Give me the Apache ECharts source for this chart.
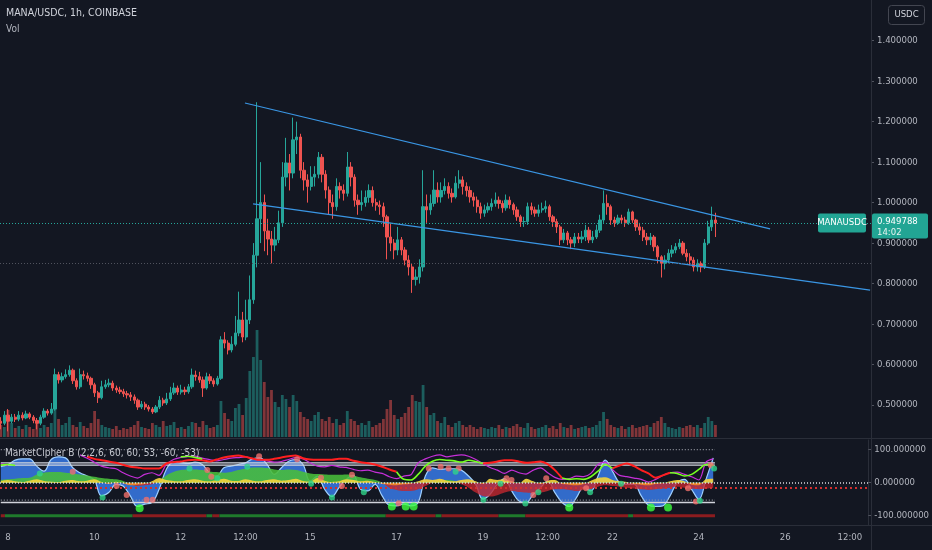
<!DOCTYPE html>
<html><head><meta charset="utf-8">
<script src="https://cdn.jsdelivr.net/npm/echarts@6/dist/echarts.min.js"></script>
<style>html,body{margin:0;padding:0;background:#131722;}#c{width:932px;height:550px;}</style>
</head><body><div id="c"></div>
<script>
// ---- time base: hours from Sep 8 00:00, 2h candles ----
const startHour = -4;
const candleStepHours = 2;
const firstOpen = 0.46;
const closes = [
0.455,0.475,0.46,0.47,0.465,0.475,0.468,0.478,0.47,0.462,
0.455,0.47,0.485,0.48,0.49,0.575,0.562,0.57,0.575,0.586,
0.56,0.545,0.575,0.572,0.566,0.55,0.53,0.518,0.545,0.55,
0.554,0.542,0.537,0.533,0.528,0.525,0.52,0.512,0.495,0.502,
0.495,0.49,0.483,0.495,0.512,0.505,0.515,0.53,0.542,0.532,
0.537,0.533,0.545,0.574,0.57,0.562,0.542,0.57,0.56,0.552,
0.566,0.661,0.653,0.636,0.65,0.678,0.71,0.668,0.71,0.76,
0.87,0.96,1.0,0.93,0.91,0.895,0.908,0.95,1.063,1.098,
1.073,1.155,1.162,1.08,1.056,1.04,1.063,1.07,1.112,1.07,
1.031,1.0,0.99,1.04,1.031,1.023,1.088,1.063,1.006,0.995,
1.0,1.013,1.03,1.0,0.994,0.99,0.965,0.915,0.9,0.883,
0.908,0.883,0.858,0.841,0.81,0.816,0.841,0.99,0.982,0.998,
1.031,1.014,1.03,1.04,1.023,1.014,1.048,1.056,1.04,1.03,
1.014,1.006,0.99,0.974,0.982,0.99,0.998,1.006,0.998,0.987,
1.006,0.995,0.982,0.965,0.953,0.953,0.99,0.982,0.974,0.982,
0.985,0.99,0.965,0.953,0.94,0.908,0.925,0.908,0.9,0.915,
0.91,0.915,0.932,0.908,0.915,0.932,0.957,0.998,0.99,0.957,
0.95,0.962,0.957,0.95,0.977,0.957,0.94,0.932,0.915,0.908,
0.915,0.891,0.866,0.85,0.858,0.875,0.883,0.891,0.9,0.875,
0.866,0.858,0.841,0.85,0.841,0.9,0.94,0.957,0.949788
];
const highs = [
0.47,0.485,0.49,0.478,0.478,0.485,0.482,0.486,0.482,0.475,
0.468,0.476,0.492,0.49,0.505,0.59,0.582,0.58,0.588,0.598,
0.59,0.566,0.59,0.585,0.58,0.57,0.555,0.535,0.56,0.562,
0.565,0.56,0.548,0.545,0.54,0.535,0.532,0.526,0.516,0.51,
0.508,0.5,0.495,0.5,0.522,0.518,0.53,0.545,0.555,0.548,
0.55,0.545,0.552,0.59,0.585,0.582,0.57,0.58,0.577,0.566,
0.572,0.67,0.68,0.66,0.67,0.72,0.78,0.73,0.76,0.82,
0.9,1.248,1.1,1.02,0.96,0.93,0.94,0.98,1.1,1.16,
1.12,1.21,1.2,1.17,1.1,1.07,1.09,1.09,1.125,1.12,
1.08,1.04,1.02,1.06,1.05,1.045,1.125,1.1,1.07,1.02,
1.03,1.03,1.045,1.04,1.01,1.005,1.0,0.97,0.95,0.91,
0.94,0.915,0.89,0.87,0.85,0.835,0.86,1.08,1.02,1.02,
1.08,1.05,1.05,1.06,1.05,1.035,1.065,1.08,1.065,1.05,
1.04,1.025,1.015,1.0,0.995,1.0,1.01,1.025,1.015,1.005,
1.02,1.015,1.0,0.99,0.97,0.965,1.0,1.0,0.99,0.995,
1.0,1.005,0.995,0.97,0.96,0.945,0.935,0.93,0.915,0.925,
0.925,0.93,0.945,0.94,0.93,0.945,0.97,1.03,1.02,0.995,
0.965,0.97,0.97,0.965,0.985,0.98,0.96,0.95,0.94,0.925,
0.925,0.92,0.895,0.87,0.87,0.885,0.895,0.9,0.91,0.905,
0.885,0.875,0.865,0.86,0.855,0.91,0.955,0.99,0.975
];
const lows = [
0.44,0.45,0.435,0.455,0.458,0.46,0.462,0.465,0.465,0.455,
0.44,0.45,0.466,0.474,0.476,0.486,0.553,0.556,0.565,0.57,
0.552,0.538,0.54,0.563,0.558,0.54,0.52,0.505,0.514,0.54,
0.544,0.535,0.53,0.527,0.52,0.516,0.51,0.503,0.488,0.49,
0.488,0.484,0.478,0.48,0.49,0.498,0.5,0.51,0.525,0.525,
0.526,0.525,0.528,0.54,0.56,0.555,0.52,0.538,0.552,0.545,
0.548,0.562,0.64,0.625,0.63,0.645,0.67,0.655,0.66,0.7,
0.75,0.84,0.9,0.88,0.87,0.85,0.88,0.9,0.94,1.04,
1.03,1.06,1.12,1.06,1.03,1.0,1.03,1.04,1.06,1.05,
1.01,0.97,0.96,0.98,1.01,1.005,1.015,1.04,0.99,0.97,
0.98,0.99,1.0,0.99,0.98,0.97,0.94,0.86,0.88,0.86,
0.87,0.87,0.845,0.82,0.777,0.795,0.8,0.83,0.95,0.97,
0.99,1.0,1.0,1.02,1.01,1.0,1.01,1.035,1.02,1.015,
1.0,0.99,0.975,0.96,0.965,0.975,0.98,0.99,0.985,0.975,
0.98,0.985,0.97,0.955,0.94,0.94,0.945,0.97,0.965,0.965,
0.975,0.975,0.955,0.94,0.925,0.895,0.9,0.895,0.885,0.89,
0.9,0.9,0.905,0.9,0.9,0.91,0.925,0.95,0.97,0.945,
0.94,0.945,0.948,0.94,0.945,0.95,0.93,0.92,0.905,0.895,
0.895,0.88,0.85,0.815,0.835,0.85,0.865,0.875,0.885,0.87,
0.855,0.845,0.83,0.83,0.828,0.836,0.895,0.93,0.915
];
const volumes = [
12,10,27,14,9,11,8,12,10,8,14,9,12,10,14,
32,18,12,14,20,12,10,15,11,9,14,26,18,12,10,
9,8,11,7,9,8,10,12,16,10,9,8,14,12,10,
16,11,12,15,9,10,8,11,15,14,10,16,12,9,10,
12,36,24,18,16,29,33,22,39,66,80,107,77,55,40,
47,35,30,42,38,30,42,36,25,20,18,16,22,25,18,
16,20,14,18,12,14,26,18,16,12,14,12,16,10,12,
14,18,28,37,22,18,20,24,30,42,36,35,52,30,22,
24,16,14,20,12,10,14,16,12,10,12,10,8,10,9,
8,10,9,12,8,10,9,11,13,10,9,14,10,8,9,
10,12,9,11,8,14,10,9,12,8,9,10,11,9,10,
12,16,25,18,12,10,9,11,8,10,12,9,10,11,12,
10,14,16,20,14,10,9,8,10,9,11,12,10,12,9,
14,20,16,12
];
// ---- indicator (4h steps) ----
const indStartHour = -4;
const indStepHours = 4;
const waveTrend = [
48,55,68,72,72,50,35,70,78,75,
45,30,20,8,-40,-30,-5,-10,-40,-72,
-65,-60,-20,40,62,60,58,62,55,30,
20,45,50,55,60,72,75,55,25,45,
65,70,55,5,20,-20,-42,-15,10,22,
-20,-25,-5,-40,-68,-70,-65,-70,-60,20,
45,40,42,42,38,20,-5,-50,-35,-5,
12,-25,-55,-60,-35,-15,5,-30,-60,-72,
-45,-15,-25,20,68,35,0,-5,-5,-40,
-68,-72,-70,-40,0,10,-20,-50,10,75
];
const moneyFlow = [
8,10,12,14,15,25,30,32,32,30,
28,25,22,18,14,12,10,5,-5,-10,
-8,-5,5,22,32,38,40,40,38,34,
32,30,32,38,42,46,46,44,40,38,
40,38,33,28,26,25,24,24,25,22,
16,12,8,0,-15,-22,-25,-25,-20,-10,
0,5,8,5,-5,-15,-30,-40,-42,-38,
-30,-25,-28,-30,-32,-30,-25,-20,-20,-22,
-25,-22,-18,-12,-8,-10,-12,-15,-18,-20,
-22,-20,-18,-15,-12,-15,-18,-20,-18,-15
];
const vwapOsc = [
5,8,4,2,6,10,5,3,2,6,
8,4,6,10,2,-4,3,-2,-8,-6,
-4,4,14,8,5,4,8,10,6,4,
8,12,6,5,10,6,4,8,10,6,
8,12,5,3,14,6,2,4,10,8,
4,6,2,-4,-6,-8,-5,-3,4,10,
8,12,6,4,8,10,4,-4,12,8,
10,4,-2,12,4,-4,6,8,-4,-6,
-8,-4,6,14,16,8,4,2,-4,-6,
-8,-4,-2,4,8,4,-6,-8,10,12
];
const rsiRed = [
null,null,null,null,null,null,null,null,null,null,
null,null,79,72,68,64,60,54,48,46,
43,43,43,58,62,64,68,69,68,64,
70,76,80,82,78,73,69,69,72,76,
80,82,74,70,69,69,69,72,72,66,
62,59,55,48,40,33,null,null,null,null,
null,null,null,null,null,null,null,58,60,64,
68,68,64,60,62,64,56,38,14,null,
null,null,null,null,null,43,52,58,50,38,
28,15,22,30,null,null,null,null,null,null
];
const rsiLime = [
53,55,52,null,null,null,null,null,null,null,
null,null,null,null,null,null,null,null,null,null,
null,null,null,null,null,78,80,76,72,null,
null,null,null,null,null,null,null,null,null,null,
null,null,null,null,null,null,null,null,null,null,
null,null,null,null,null,33,10,8,25,50,
65,70,68,66,62,68,64,58,null,null,
null,null,null,null,null,null,null,null,14,10,
12,10,18,35,55,43,null,null,null,null,
null,null,null,30,28,20,25,40,55,52
];
const stochMagenta = [
58,52,null,null,null,null,null,null,null,null,
null,84,74,62,50,45,42,30,20,14,
25,30,22,55,70,76,79,80,74,70,
66,70,74,76,78,72,68,66,62,64,
70,76,72,60,50,48,52,48,46,40,
36,38,32,28,18,12,20,24,60,72,
80,84,78,82,84,80,70,58,46,38,
28,38,30,26,38,45,30,16,10,12,
20,18,28,55,62,40,22,18,14,10,
2,10,22,30,32,25,18,8,62,72
];
const bigGreenDots = [[73.2,-77],[213.4,-72],[221.1,-72],[225.5,-72],[312,-75],[357.4,-75],[366.9,-75]];
const smallGreenDots = [[17.7,28],[52.6,-45],[100.9,43],[116.4,13],[133,48],[168.5,-3],[180.1,-45],[197.8,-29],[248.8,33],[264.3,-52],[273.8,-3],[287.6,-63],[294.8,-29],[323.6,-29],[340.8,-3],[384.6,-55],[392.5,43]];
const redDots = [[36,33],[60.4,-10],[66,-37],[77,-52],[80.4,-52],[110.8,38],[113,18],[139.6,80],[160.7,71],[174,15],[185.6,-10],[191.2,24],[217.2,-62],[233.9,43],[240.5,48],[244.9,43],[250.5,43],[277.1,13],[279.9,8],[292,-37],[299.2,13],[321.4,-17],[378,-17],[382.4,-57],[390.7,53]];
const signalSegments = [[-4,-1.7,'r'],[-1.7,69.3,'g'],[69.3,110.3,'r'],[110.3,113.6,'g'],[113.6,117.5,'r'],[117.5,210,'g'],[210,237.7,'r'],[237.7,241,'g'],[241,272.7,'r'],[272.7,287.6,'g'],[287.6,344.7,'r'],[344.7,347.5,'g'],[347.5,393,'r']];
const levelsSolid = [60, 53, -60];
const levelsDotted = [100, -53];
const signalLevel = -100;
const zeroLevel = 0;
const redDottedLevel = -15;
// ---- drawings / labels ----
const trendUpper = [[131.3,1.246],[422.3,0.935]];
const trendLower = [[135.8,0.997],[477.7,0.784]];
const lastPrice = 0.949788;
const refLevel = 0.8476;
const xTickHours = [0,48,96,132,168,216,264,300,336,384,432,468];
const xTickLabels = ['8','10','12','12:00','15','17','19','12:00','22','24','26','12:00'];
const priceTicks = [0.5,0.6,0.7,0.8,0.9,1.0,1.1,1.2,1.3,1.4];
const indTicks = [-100,0,100];

const X_MIN = -4.43, X_MAX = 478.2;
const IND_MIN = -128, IND_MAX = 129, IND_TOP = 440, IND_H = 85;
const FONT = "'Liberation Sans Narrow','DejaVu Sans Condensed','Liberation Sans',sans-serif";
const TXT = '#b2b5be';
const chart = echarts.init(document.getElementById('c'), null, {renderer:'canvas', width:932, height:550});

const candleData = [], volData = [];
let prev = firstOpen;
closes.forEach((c, i) => {
  const t = startHour + i * candleStepHours;
  candleData.push([t, prev, c, lows[i], highs[i]]);
  volData.push({value: [t, volumes[i]], itemStyle: {color: c >= prev ? 'rgba(38,166,154,0.5)' : 'rgba(239,83,80,0.5)'}});
  prev = c;
});
const indT = j => indStartHour + j * indStepHours;
const toPairs = arr => arr.map((v, j) => [indT(j), v === null ? '-' : v]);
const dataEnd = indT(waveTrend.length - 1) + 1;
// two-colour fill split at the zero line of the indicator pane (global pixel gradient)
const zeroOff = (IND_MAX - zeroLevel) / (IND_MAX - IND_MIN);
const splitFill = (up, down) => new echarts.graphic.LinearGradient(0, IND_TOP, 0, IND_TOP + IND_H, [
  {offset:0, color:up}, {offset:zeroOff, color:up}, {offset:zeroOff, color:down}, {offset:1, color:down}], true);

const series = [];
series.push({type:'bar', xAxisIndex:0, yAxisIndex:1, data:volData, barWidth:2.8, silent:true, z:1});
series.push({type:'candlestick', xAxisIndex:0, yAxisIndex:0, data:candleData, encode:{x:0, y:[1,2,3,4]}, barWidth:2.8, z:3,
  itemStyle:{color:'#26a69a', color0:'#ef5350', borderColor:'#26a69a', borderColor0:'#ef5350', borderWidth:1},
  markLine:{symbol:'none', silent:true, label:{show:false}, data:[
    {yAxis:lastPrice, lineStyle:{color:'#26a69a', type:[1,2], width:1}},
    {yAxis:refLevel, lineStyle:{color:'#50535e', type:[1,2], width:1}}]}});
[trendUpper, trendLower].forEach(d => series.push({type:'line', xAxisIndex:0, yAxisIndex:0, data:d, symbol:'none', z:4, silent:true, lineStyle:{color:'#3a96e4', width:1.2}}));
// indicator
series.push({type:'line', xAxisIndex:1, yAxisIndex:2, data:toPairs(waveTrend), smooth:0.4, symbol:'none', z:2,
  lineStyle:{color:'#9fd0ff', width:1.2}, areaStyle:{color:'#3470d4', opacity:0.95},
  markLine:{symbol:'none', silent:true, label:{show:false}, data:[
    {yAxis:zeroLevel, lineStyle:{color:'#d7d9df', type:[1,2], width:1.5}},
    {yAxis:redDottedLevel, lineStyle:{color:'#d32f2f', type:[2,3], width:2}}]}});
series.push({type:'line', xAxisIndex:1, yAxisIndex:2, data:toPairs(moneyFlow), smooth:0.4, symbol:'none', z:3,
  lineStyle:{width:0}, areaStyle:{color:splitFill('rgba(72,190,58,0.88)', 'rgba(194,38,46,0.8)'), opacity:1}});
series.push({type:'line', xAxisIndex:1, yAxisIndex:2, data:toPairs(vwapOsc), smooth:0.3, symbol:'none', z:4,
  lineStyle:{width:0}, areaStyle:{color:splitFill('rgba(242,210,60,0.92)', 'rgba(240,138,36,0.9)'), opacity:1}});
levelsSolid.forEach(L => series.push({type:'line', xAxisIndex:1, yAxisIndex:2, data:[[startHour, L],[dataEnd, L]], symbol:'none', silent:true, z:5, lineStyle:{color:'#d1d4dc', width:1.3}}));
levelsDotted.forEach(L => series.push({type:'line', xAxisIndex:1, yAxisIndex:2, data:[[startHour, L],[dataEnd, L]], symbol:'none', silent:true, z:5, lineStyle:{color:'#9598a1', width:1.3, type:[1,2]}}));
series.push({type:'line', xAxisIndex:1, yAxisIndex:2, data:toPairs(stochMagenta), smooth:0.3, symbol:'none', z:6, lineStyle:{color:'#c62fd9', width:1.2}});
series.push({type:'line', xAxisIndex:1, yAxisIndex:2, data:toPairs(rsiRed), smooth:0.3, symbol:'none', z:7, lineStyle:{color:'#ff1f1f', width:2}});
series.push({type:'line', xAxisIndex:1, yAxisIndex:2, data:toPairs(rsiLime), smooth:0.3, symbol:'none', z:7, lineStyle:{color:'#76ff21', width:1.6}});
series.push({type:'scatter', xAxisIndex:1, yAxisIndex:2, data:redDots, symbolSize:6, z:8, itemStyle:{color:'#ef6f6c'}});
series.push({type:'scatter', xAxisIndex:1, yAxisIndex:2, data:smallGreenDots, symbolSize:6, z:8, itemStyle:{color:'#2fd38a'}});
series.push({type:'scatter', xAxisIndex:1, yAxisIndex:2, data:bigGreenDots, symbolSize:8, z:8, itemStyle:{color:'#3dff3d'}});
signalSegments.forEach(s => series.push({type:'line', xAxisIndex:1, yAxisIndex:2, data:[[s[0], signalLevel],[s[1], signalLevel]], symbol:'none', silent:true, z:5, lineStyle:{color: s[2] === 'g' ? '#1f7a2c' : '#8c1c1f', width:3}}));

const axisLabelBase = {color:TXT, fontSize:9.5, fontFamily:FONT};
const option = {
  backgroundColor:'#131722',
  animation:false,
  grid:[{left:0, top:0, width:871, height:437}, {left:0, top:IND_TOP, width:871, height:IND_H}],
  xAxis:[
    {gridIndex:0, type:'value', min:X_MIN, max:X_MAX, show:false, axisLine:{onZero:false}},
    {gridIndex:1, type:'value', min:X_MIN, max:X_MAX, axisLine:{show:false, onZero:false}, axisTick:{show:false}, splitLine:{show:false},
      axisLabel:Object.assign({customValues:xTickHours, margin:8, formatter: v => { const k = xTickHours.indexOf(v); return k >= 0 ? xTickLabels[k] : ''; }}, axisLabelBase)}
  ],
  yAxis:[
    {gridIndex:0, type:'value', position:'right', min:0.421, max:1.5005, splitLine:{show:false},
      axisLine:{show:true, onZero:false, lineStyle:{color:'#2a2e39'}}, axisTick:{show:true, customValues:priceTicks, length:3, lineStyle:{color:'#50535e'}},
      axisLabel:Object.assign({customValues:priceTicks, margin:6, formatter: v => v.toFixed(6)}, axisLabelBase)},
    {gridIndex:0, type:'value', min:0, max:437, show:false, axisLine:{onZero:false}},
    {gridIndex:1, type:'value', position:'right', min:IND_MIN, max:IND_MAX, splitLine:{show:false},
      axisLine:{show:true, onZero:false, lineStyle:{color:'#2a2e39'}}, axisTick:{show:true, customValues:indTicks, length:3, lineStyle:{color:'#50535e'}},
      axisLabel:Object.assign({customValues:indTicks, margin:6, formatter: v => v.toFixed(6)}, axisLabelBase)}
  ],
  series: series
};
chart.setOption(option);

const py = chart.convertToPixel({yAxisIndex:0}, lastPrice);
chart.setOption({graphic:[
  {type:'line', shape:{x1:0, y1:438.5, x2:932, y2:438.5}, style:{stroke:'#2a2e39', lineWidth:1}, z:50},
  {type:'line', shape:{x1:0, y1:525.5, x2:932, y2:525.5}, style:{stroke:'#2a2e39', lineWidth:1}, z:50},
  {type:'line', shape:{x1:871.5, y1:0, x2:871.5, y2:550}, style:{stroke:'#2a2e39', lineWidth:1}, z:50},
  {type:'text', left:6, top:8, style:{text:'MANA/USDC, 1h, COINBASE', fill:'#d1d4dc', font:'10.5px ' + FONT}, z:60},
  {type:'text', left:6, top:24, style:{text:'Vol', fill:'#b2b5be', font:'10px ' + FONT}, z:60},
  {type:'text', left:5, top:448, style:{text:'MarketCipher B (2,2,6, 60, 60, 53, -60, -53)', fill:'#c3c6ce', font:'10px ' + FONT}, z:60},
  {type:'rect', shape:{x:888.5, y:5.5, width:36, height:19, r:3}, style:{fill:'#131722', stroke:'#434651', lineWidth:1}, z:60},
  {type:'text', x:906.5, y:15, style:{text:'USDC', fill:'#d1d4dc', font:'9.5px ' + FONT, align:'center', verticalAlign:'middle'}, z:61},
  {type:'rect', shape:{x:818, y:py - 9.5, width:48, height:19, r:2}, style:{fill:'#22a594'}, z:60},
  {type:'text', x:842, y:py, style:{text:'MANAUSDC', fill:'#ffffff', font:'9.5px ' + FONT, align:'center', verticalAlign:'middle'}, z:61},
  {type:'rect', shape:{x:872, y:py - 9.5, width:56, height:25, r:2}, style:{fill:'#22a594'}, z:60},
  {type:'text', x:877, y:py - 1, style:{text:'0.949788', fill:'#ffffff', font:'9.5px ' + FONT, align:'left', verticalAlign:'middle'}, z:61},
  {type:'text', x:877, y:py + 10, style:{text:'14:02', fill:'#e6f4f1', font:'9.5px ' + FONT, align:'left', verticalAlign:'middle'}, z:61}
]});
</script></body></html>
